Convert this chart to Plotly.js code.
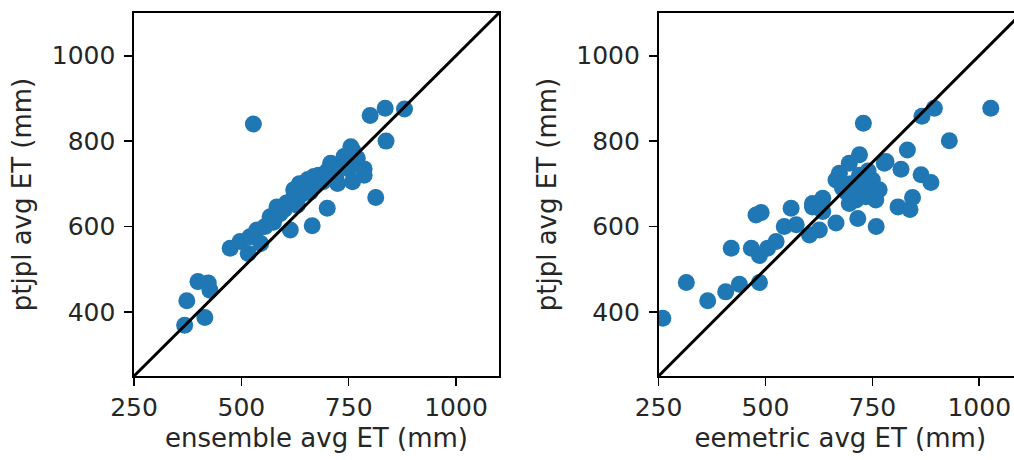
<!DOCTYPE html>
<html>
<head>
<meta charset="utf-8">
<script src="https://cdn.plot.ly/plotly-3.0.1.min.js"></script>
<style>
html,body{margin:0;padding:0;overflow:hidden;background:#fff;}
#chart{width:1030px;height:460px;}
</style>
</head>
<body>
<div id="chart"></div>
<script>
// Left panel: ensemble vs ptjpl
const ensembleET = [368,373,399,415,423,427,474,497,516,520,536,545,555,567,575,583,590,600,605,614,620,622,630,635,640,645,650,655,660,665,669,675,680,690,700,700,708,715,720,724,730,739,745,750,755,759,759,770,786,786,800,813,835,837,880,528];
const ptjplVsEnsemble = [369,426,471,387,468,451,549,565,537,576,592,560,600,623,610,646,630,640,655,592,665,686,650,700,675,701,690,710,680,602,717,700,720,705,643,730,748,735,715,701,745,764,750,735,787,779,705,760,735,720,860,668,877,800,875,840];

// Right panel: eemetric vs ptjpl
const eemetricET = [260,315,365,407,439,486,420,467,486,505,525,478,490,544,572,560,603,626,610,634,634,610,665,716,759,665,673,696,720,729,696,712,720,735,743,750,758,766,758,778,782,810,838,844,817,832,864,887,930,866,895,1027,700,720,740,680,710,690];
const ptjplVsEemetric = [385,469,426,447,465,469,549,549,532,549,565,627,633,600,604,643,580,592,646,666,635,654,608,619,600,709,725,748,768,842,654,662,678,670,701,709,686,686,662,748,752,646,640,668,734,779,721,703,801,858,877,877,700,720,730,690,690,680];

// 1:1 reference line extent
const oneToOne = [250, 1100];

const axisRange = [250, 1100];
const xTicks = [250, 500, 750, 1000];
const yTicks = [400, 600, 800, 1000];

const blue = '#1f77b4';
const tickFont = {family: 'DejaVu Sans', size: 25, color: '#262626'};
const titleFont = {family: 'DejaVu Sans', size: 26, color: '#262626'};

const traces = [
  {x: ensembleET, y: ptjplVsEnsemble, type: 'scatter', mode: 'markers',
   marker: {color: blue, size: 17}, xaxis: 'x', yaxis: 'y', hoverinfo: 'x+y'},
  {x: oneToOne, y: oneToOne, type: 'scatter', mode: 'lines',
   line: {color: '#000', width: 3}, xaxis: 'x', yaxis: 'y'},
  {x: eemetricET, y: ptjplVsEemetric, type: 'scatter', mode: 'markers',
   marker: {color: blue, size: 17}, xaxis: 'x2', yaxis: 'y2', hoverinfo: 'x+y'},
  {x: oneToOne, y: oneToOne, type: 'scatter', mode: 'lines',
   line: {color: '#000', width: 3}, xaxis: 'x2', yaxis: 'y2'}
];

function xa(domain, title, anchor) {
  return {domain: domain, range: axisRange, tickvals: xTicks, ticks: 'outside',
    ticklen: 8, tickwidth: 1.6, tickcolor: '#000', showline: true, linecolor: '#000',
    linewidth: 1.6, mirror: true, showgrid: false, zeroline: false, anchor: anchor,
    tickfont: tickFont, title: {text: title, font: titleFont, standoff: 8}};
}
function ya(title, anchor) {
  return {domain: [0, 1], range: axisRange, tickvals: yTicks, ticks: 'outside',
    ticklen: 8, tickwidth: 1.6, tickcolor: '#000', showline: true, linecolor: '#000',
    linewidth: 1.6, mirror: true, showgrid: false, zeroline: false, anchor: anchor,
    ticklabelstandoff: 4,
    tickfont: tickFont, title: {text: title, font: titleFont, standoff: 12}};
}

const layout = {
  width: 1030, height: 460,
  margin: {l: 134, r: 8, t: 13, b: 84},
  paper_bgcolor: '#fff', plot_bgcolor: '#fff',
  showlegend: false,
  font: tickFont,
  xaxis: xa([0, 0.411], 'ensemble avg ET (mm)', 'y'),
  yaxis: ya('ptjpl avg ET (mm)', 'x'),
  xaxis2: xa([0.5907, 1], 'eemetric avg ET (mm)', 'y2'),
  yaxis2: ya('ptjpl avg ET (mm)', 'x2')
};

Plotly.newPlot('chart', traces, layout, {staticPlot: true, displayModeBar: false});
</script>
</body>
</html>
